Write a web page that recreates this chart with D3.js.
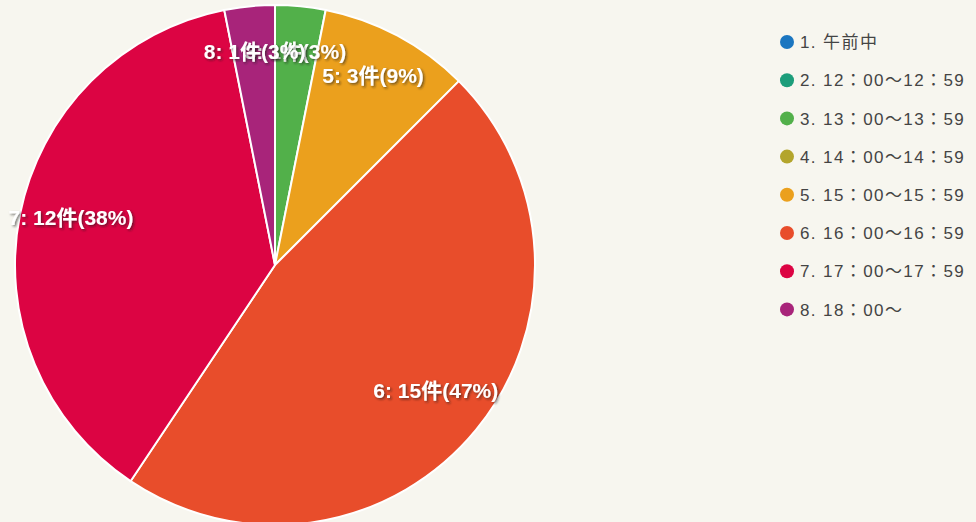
<!DOCTYPE html>
<html>
<head>
<meta charset="utf-8">
<script src="https://cdn.jsdelivr.net/npm/d3@7"></script>
<style>
  body { margin: 0; background: #f7f6ef; }
  svg { display: block; }
</style>
</head>
<body>
<div id="chart"></div>
<script>
// categories and values
var categories = ["1. 午前中", "2. 12：00～12：59", "3. 13：00～13：59", "4. 14：00～14：59",
  "5. 15：00～15：59", "6. 16：00～16：59", "7. 17：00～17：59", "8. 18：00～"];
var counts = [0, 0, 1, 0, 3, 15, 12, 1];
var colors = ["#1b76c0", "#1c9d7a", "#52b04a", "#b3a52c", "#eba01d", "#e84d2b", "#dc0443", "#a8247a"];

var width = 976, height = 522;
var cx = 275, cy = 265, radius = 260;

var svg = d3.select("#chart").append("svg")
  .attr("width", width)
  .attr("height", height);

var defs = svg.append("defs");
var f = defs.append("filter").attr("id", "shadow")
  .attr("x", "-10%").attr("y", "-30%").attr("width", "130%").attr("height", "160%");
f.append("feDropShadow").attr("dx", 1.5).attr("dy", 1.5).attr("stdDeviation", 1.2)
  .attr("flood-color", "#222").attr("flood-opacity", 0.6);

var total = d3.sum(counts);
var data = categories.map(function (c, i) {
  return { name: c, value: counts[i], index: i };
});

var pie = d3.pie().sort(null).value(function (d) { return d.value; });
var arc = d3.arc().innerRadius(0).outerRadius(radius);
var labelArc = d3.arc().innerRadius(radius * 0.8).outerRadius(radius * 0.8);

var arcs = pie(data).filter(function (d) { return d.data.value > 0; });

var g = svg.append("g").attr("transform", "translate(" + cx + "," + cy + ")");

g.selectAll("path")
  .data(arcs)
  .enter()
  .append("path")
  .attr("d", arc)
  .attr("fill", function (d) { return colors[d.data.index]; })
  .attr("stroke", "#fff")
  .attr("stroke-width", 2);

g.selectAll("text.label")
  .data(arcs)
  .enter()
  .append("text")
  .attr("class", "label")
  .attr("transform", function (d) { return "translate(" + labelArc.centroid(d) + ")"; })
  .attr("dy", "0.05em")
  .attr("text-anchor", "middle")
  .attr("font-family", "Arial, 'Liberation Sans', 'Noto Sans CJK JP', sans-serif")
  .attr("font-weight", "bold")
  .attr("font-size", 21)
  .attr("fill", "#fff")
  .attr("filter", "url(#shadow)")
  .text(function (d) {
    var n = d.data.index + 1;
    return n + ": " + d.data.value + "件(" + Math.round(d.data.value / total * 100) + "%)";
  });

// legend
var legend = svg.append("g").attr("transform", "translate(787,42)");
var row = legend.selectAll("g")
  .data(data)
  .enter()
  .append("g")
  .attr("transform", function (d, i) { return "translate(0," + (i * 38.2) + ")"; });

row.append("circle")
  .attr("r", 7)
  .attr("fill", function (d) { return colors[d.index]; });

row.append("text")
  .attr("x", 13)
  .attr("dy", "0.36em")
  .attr("font-family", "Arial, 'Liberation Sans', 'Noto Sans CJK JP', sans-serif")
  .attr("font-size", 17)
  .attr("letter-spacing", 1.4)
  .attr("fill", "#444")
  .text(function (d) { return d.name; });
</script>
</body>
</html>
